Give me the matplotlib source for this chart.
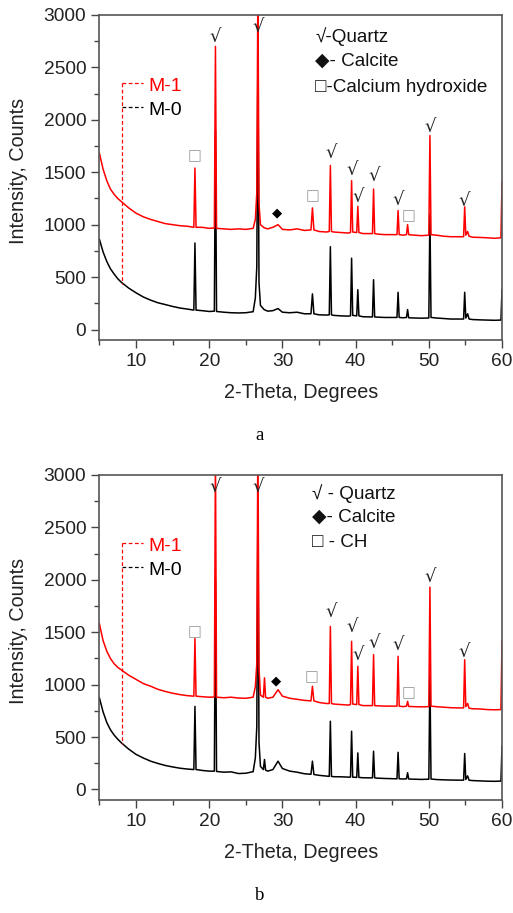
import matplotlib
matplotlib.use("Agg")
import matplotlib.pyplot as plt
from matplotlib.ticker import MultipleLocator

plt.rcParams['font.family'] = ['Liberation Sans', 'DejaVu Sans']

# ---- panel a data (2-theta, counts) ----
xa = [5, 5.5, 6, 6.5, 7, 7.5, 8,
      9, 10, 11, 12, 13, 14, 15, 16, 17,
      17.9, 18.05, 18.2, 19, 20,
      20.7, 20.85, 21.0, 22, 23, 24, 25, 26,
      26.3, 26.5, 26.65, 26.8, 27.0, 27.5, 28, 28.7, 29.4, 30,
      31, 32, 33, 33.9, 34.1, 34.3, 35, 36,
      36.4, 36.55, 36.7, 37, 38, 39,
      39.3, 39.45, 39.6, 40.15, 40.3, 40.45, 41, 42,
      42.3, 42.45, 42.6, 43, 44, 45,
      45.65, 45.8, 45.95, 46.5, 46.95, 47.1, 47.25, 48, 49,
      50.0, 50.15, 50.3, 51, 52, 53, 54,
      54.75, 54.9, 55.05, 55.3, 55.5, 56, 57, 58, 59, 59.85, 60]
m1a = [1680, 1530, 1420, 1340, 1290, 1250, 1220,
       1160, 1110, 1075, 1050, 1030, 1010, 1000, 990, 985,
       975, 1540, 975, 975, 965,
       968, 2700, 965, 960, 955, 960, 955, 965,
       1050, 1300, 3300, 1200, 1000, 970, 960, 975, 1000, 955,
       950, 960, 945, 950, 1160, 950, 935, 930,
       935, 1565, 935, 930, 925, 920,
       925, 1420, 930, 925, 1175, 925, 915, 915,
       915, 1340, 915, 910, 905, 905,
       905, 1135, 905, 900, 905, 1000, 905, 900, 895,
       900, 1850, 905, 900, 890, 885, 885,
       885, 1170, 900, 935, 890, 880, 878, 875, 870, 875, 1410]
m0a = [860, 740, 650, 580, 530, 485, 450,
       395, 350, 310, 280, 255, 238, 220, 205, 195,
       185, 825, 185, 180, 172,
       175, 1900, 172, 165, 160, 158, 160, 170,
       300, 600, 2600, 450, 230, 190, 175, 180, 200, 165,
       160, 165, 150, 150, 340, 150, 140, 138,
       140, 790, 140, 135, 130, 128,
       130, 680, 135, 130, 380, 130, 122, 120,
       120, 475, 120, 118, 115, 115,
       115, 355, 115, 112, 115, 190, 112, 110, 108,
       110, 1100, 115, 110, 105, 100, 100,
       100, 355, 110, 150, 100, 95, 92, 90, 88, 90, 380]

# ---- panel b data ----
xb = [5, 5.5, 6, 6.5, 7, 7.5, 8,
      9, 10, 11, 12, 13, 14, 15, 16, 17,
      17.9, 18.05, 18.2, 19, 20,
      20.7, 20.85, 21.0, 22, 23, 24, 25, 26,
      26.3, 26.5, 26.65, 26.8, 27.0, 27.4, 27.55, 27.7, 28, 28.7, 29.4, 30,
      31, 32, 33, 33.9, 34.1, 34.3, 35, 36,
      36.4, 36.55, 36.7, 37, 38, 39,
      39.3, 39.45, 39.6, 40.15, 40.3, 40.45, 41, 42,
      42.3, 42.45, 42.6, 43, 44, 45,
      45.65, 45.8, 45.95, 46.5, 46.95, 47.1, 47.25, 48, 49,
      50.0, 50.15, 50.3, 51, 52, 53, 54,
      54.75, 54.9, 55.05, 55.3, 55.5, 56, 57, 58, 59, 59.85, 60]
m1b = [1580, 1420, 1320, 1250, 1200, 1165, 1140,
       1090, 1050, 1010, 985, 955, 935, 918, 905, 895,
       890, 1440, 890, 885, 880,
       882, 3200, 880, 875, 880, 872, 870, 880,
       980, 1200, 3400, 1150, 900, 880, 1065, 880, 870, 880, 952, 890,
       870, 860, 850, 845, 984, 845, 830, 820,
       820, 1555, 820, 815, 810, 805,
       810, 1413, 815, 810, 1175, 810, 800, 800,
       800, 1286, 800, 798, 795, 795,
       795, 1270, 795, 790, 795, 841, 792, 790, 788,
       790, 1930, 795, 790, 785, 780, 778,
       778, 1238, 790, 820, 775, 770, 768, 762, 760, 762, 1413]
m0b = [873, 740, 640, 570, 520, 480, 445,
       385, 335, 300, 270, 248, 229, 215, 203, 195,
       190, 793, 190, 182, 175,
       175, 2000, 172, 165, 168, 152, 155, 170,
       300, 600, 2700, 450, 220, 190, 286, 185, 175, 190, 270, 200,
       175, 165, 150, 145, 270, 143, 135, 128,
       125, 651, 125, 122, 121, 118,
       118, 556, 118, 115, 349, 115, 112, 111,
       111, 365, 111, 108, 105, 103,
       102, 355, 102, 100, 102, 160, 100, 98, 96,
       98, 1100, 100, 95, 92, 90, 89,
       89, 343, 95, 130, 88, 85, 82, 79, 78, 80, 413]

# peak marks: (2theta, height) for quartz, CH and calcite
qa = [(20.85, 2790), (26.65, 2890), (36.6, 1683), (39.5, 1524), (40.4, 1264),
      (42.6, 1467), (45.8, 1232), (50.2, 1937), (54.8, 1229)]
cha = [(18.05, 1657), (34.1, 1276), (47.2, 1086)]
cca = [(29.3, 1112)]
qb = [(20.85, 2886), (26.65, 2886), (36.6, 1698), (39.5, 1555), (40.4, 1286),
      (42.5, 1397), (45.8, 1381), (50.2, 2032), (54.8, 1317)]
chb = [(18.05, 1505), (34.0, 1079), (47.2, 927)]
ccb = [(29.1, 1038)]

legend_a = ["\u221a-Quartz", "\u25c6- Calcite", "\u25a1-Calcium hydroxide"]
legend_b = ["\u221a - Quartz", "\u25c6- Calcite", "\u25a1 - CH"]

fig = plt.figure(figsize=(5.13, 9.13), dpi=100)
ax1 = fig.add_axes([0.1938, 0.6276, 0.7848, 0.356])
ax2 = fig.add_axes([0.1938, 0.1238, 0.7848, 0.356])


def panel(ax, x, m0, m1, q, ch, cc, legend, leg_x, leg_y):
    ax.plot(x, m0, color='black', lw=1.1)
    ax.plot(x, m1, color='red', lw=1.1)
    ax.set_xlim(5, 60)
    ax.set_ylim(-100, 3000)
    ax.xaxis.set_major_locator(MultipleLocator(10))
    ax.xaxis.set_minor_locator(MultipleLocator(5))
    ax.yaxis.set_major_locator(MultipleLocator(500))
    ax.yaxis.set_minor_locator(MultipleLocator(250))
    ax.tick_params(which='both', direction='out', top=False, right=False,
                   color='#444444', labelsize=13.8, labelcolor='#222222')
    ax.tick_params(which='major', length=6, width=1)
    ax.tick_params(which='minor', length=3.5, width=1)
    for s in ax.spines.values():
        s.set_color('#555555')
        s.set_linewidth(1.2)
    ax.set_xlabel("2-Theta, Degrees", fontsize=14.2, color='#222222')
    ax.set_ylabel("Intensity, Counts", fontsize=14.2, color='#222222')
    ax.xaxis.set_label_coords(0.5, -0.163)
    ax.yaxis.set_label_coords(-0.2, 0.52)
    ax.xaxis.label.set_va('center')
    ax.yaxis.label.set_va('center')

    for px, py in q:
        ax.text(px, py, "\u221a", ha='center', va='center', fontsize=13,
                family=['DejaVu Sans'], color='#222222')
    for px, py in ch:
        ax.text(px, py, "\u25a1", ha='center', va='center', fontsize=10.5,
                family=['DejaVu Sans'], color='#999999')
    for px, py in cc:
        ax.text(px, py, "\u25c6", ha='center', va='center', fontsize=9.5,
                family=['DejaVu Sans'], color='black')

    # layer legend as in the original
    ax.plot([8.13, 8.13], [2350, 430], color='red', lw=0.9, ls=(0, (3, 2)))
    ax.plot([8.13, 11.0], [2350, 2350], color='red', lw=0.9, ls=(0, (3, 2)))
    ax.plot([8.13, 11.0], [2120, 2120], color='black', lw=0.9, ls=(0, (3, 2)))
    ax.text(11.7, 2320, "M-1", color='red', fontsize=14, va='center')
    ax.text(11.7, 2090, "M-0", color='black', fontsize=14, va='center')

    for i, t in enumerate(legend):
        ax.text(leg_x, leg_y[i], t, fontsize=13.6, va='center', color='#111111',
                family=['Liberation Sans', 'DejaVu Sans'])


panel(ax1, xa, m0a, m1a, qa, cha, cca, legend_a, 34.5, [2790, 2555, 2310])
panel(ax2, xb, m0b, m1b, qb, chb, ccb, legend_b, 34.0, [2825, 2597, 2355])

fig.text(0.506, 1 - 435 / 913, "a", ha='center', va='center', fontsize=13.5,
         family='Liberation Serif')
fig.text(0.506, 1 - 895 / 913, "b", ha='center', va='center', fontsize=13.5,
         family='Liberation Serif')

fig.savefig("out.png", dpi=100)
